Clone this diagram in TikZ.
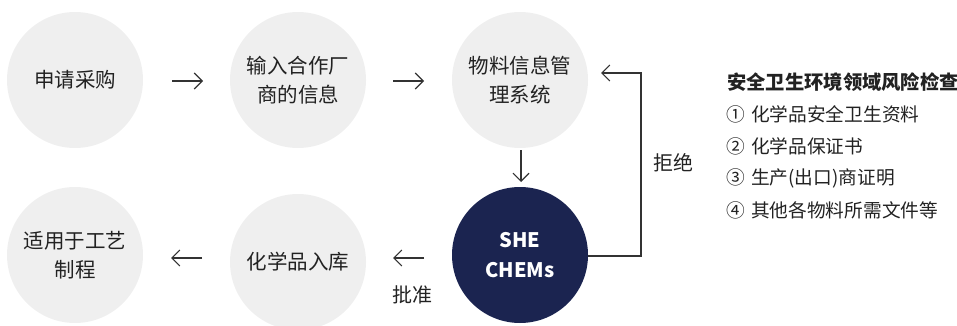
\documentclass[tikz,border=0pt]{standalone}
\usepackage{fontspec}
\setmainfont{Noto Sans CJK SC}
\usetikzlibrary{arrows.meta}
\definecolor{cgray}{HTML}{EFEFEF}
\definecolor{cnavy}{HTML}{1B2450}
\definecolor{ctext}{HTML}{222222}
\definecolor{cline}{HTML}{333333}
\newcommand{\numbox}[1]{\makebox[25pt][l]{#1}}
\begin{document}
\begin{tikzpicture}[x=1pt,y=-1pt,
  circ/.style={circle,minimum size=136pt,inner sep=0pt,fill=cgray,text=ctext,align=center,font=\fontsize{20.5}{29}\selectfont},
  darkcirc/.style={circle,minimum size=136pt,inner sep=0pt,fill=cnavy,text=white,align=center,font=\fontsize{20}{30}\selectfont\bfseries},
  arr/.style={draw=cline,line width=1.1pt,-{Straight Barb[length=8pt,width=16pt,line width=1.1pt]}},
  lbl/.style={text=ctext,font=\fontsize{20}{22}\selectfont,inner sep=0pt},
  item/.style={text=ctext,font=\fontsize{18.7}{20}\selectfont,inner sep=0pt,anchor=west}
]
\useasboundingbox (0,0) rectangle (957,326);
\node[circ] (n1) at (75,80) {申请采购};
\node[circ] (n2) at (298,80) {输入合作厂\\商的信息};
\node[circ] (n3) at (520,80) {物料信息管\\理系统};
\node[darkcirc] (n4) at (520,255) {SHE\\CHEMs};
\node[circ] (n5) at (298,262) {化学品入库};
\node[circ] (n6) at (75,255) {适用于工艺\\制程};

\coordinate (a1s) at (172,81); \coordinate (a1e) at (203,81);
\coordinate (a2s) at (393,81); \coordinate (a2e) at (424,81);
\coordinate (a3s) at (521,150); \coordinate (a3e) at (521,182);
\coordinate (a4s) at (424,258); \coordinate (a4e) at (393,258);
\coordinate (a5s) at (202,258); \coordinate (a5e) at (171,258);
\draw[arr] (a1s) -- (a1e);
\draw[arr] (a2s) -- (a2e);
\draw[arr] (a3s) -- (a3e);
\draw[arr] (a4s) -- (a4e);
\draw[arr] (a5s) -- (a5e);

\coordinate (r1) at (641,256);
\coordinate (r2) at (641,73);
\coordinate (r3) at (601,73);
\draw[arr] (n4.east |- r1) -- (r1) -- (r2) -- (r3);

\node[lbl] (rej) at (673,163) {拒绝};
\node[lbl] (app) at (412,295) {批准};

\node[item,font=\fontsize{19.3}{22}\selectfont\bfseries] (t0) at (727,82) {安全卫生环境领域风险检查};
\node[item] (t1) at (726,114) {\numbox{①}化学品安全卫生资料};
\node[item] (t2) at (726,146) {\numbox{②}化学品保证书};
\node[item] (t3) at (726,178) {\numbox{③}生产(出口)商证明};
\node[item] (t4) at (726,210) {\numbox{④}其他各物料所需文件等};
\end{tikzpicture}
\end{document}
